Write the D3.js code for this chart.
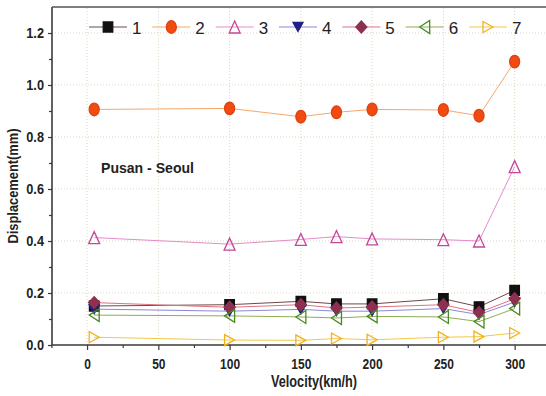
<!DOCTYPE html>
<html>
<head>
<meta charset="utf-8">
<script src="https://cdn.jsdelivr.net/npm/d3@7"></script>
<style>
  body { margin: 0; background: #fff; }
  svg { display: block; }
  .tick text { font-family: "Liberation Sans", Arial, sans-serif; font-weight: bold; font-size: 15px; fill: #222; }
  .lbl { font-family: "Liberation Sans", Arial, sans-serif; font-weight: bold; fill: #222; }
  .leg { font-family: "Liberation Sans", Arial, sans-serif; font-size: 17px; fill: #222; }
</style>
</head>
<body>
<svg id="chart"></svg>
<script>
// velocity (km/h) and displacement (mm) per series
const velocity = [5, 100, 150, 175, 200, 250, 275, 300];
const s1 = [0.150, 0.155, 0.168, 0.158, 0.158, 0.178, 0.147, 0.210];
const s2 = [0.906, 0.910, 0.878, 0.895, 0.906, 0.904, 0.882, 1.090];
const s3 = [0.413, 0.388, 0.406, 0.417, 0.408, 0.405, 0.400, 0.686];
const s4 = [0.138, 0.130, 0.137, 0.130, 0.130, 0.140, 0.117, 0.165];
const s5 = [0.163, 0.145, 0.155, 0.142, 0.146, 0.155, 0.125, 0.178];
const s6 = [0.115, 0.112, 0.108, 0.104, 0.110, 0.108, 0.090, 0.140];
const s7 = [0.030, 0.019, 0.018, 0.025, 0.020, 0.030, 0.032, 0.046];
const seriesNames = ['1', '2', '3', '4', '5', '6', '7'];
const xTicks = [0, 50, 100, 150, 200, 250, 300];
const yTicks = [0.0, 0.2, 0.4, 0.6, 0.8, 1.0, 1.2];

const W = 546, H = 396;
const margin = {top: 7, right: 0, bottom: 51, left: 52};

const svg = d3.select('#chart').attr('width', W).attr('height', H);

const x = d3.scaleLinear().domain([-24.6, 322]).range([margin.left, W - margin.right]);
const y = d3.scaleLinear().domain([0, 1.3]).range([H - margin.bottom, margin.top]);

// squeeze bold text horizontally to get a narrow face
function narrow(sel, k) {
  sel.each(function() {
    const len = this.getComputedTextLength();
    d3.select(this).attr('textLength', len * k).attr('lengthAdjust', 'spacingAndGlyphs');
  });
}

// triangle with given width/height pointing up/down/left/right
function tri(w, h, dir) {
  return {
    draw(ctx) {
      const pts = {
        up:    [[0, -h / 2], [w / 2, h / 2], [-w / 2, h / 2]],
        down:  [[0, h / 2], [w / 2, -h / 2], [-w / 2, -h / 2]],
        left:  [[-w / 2, 0], [w / 2, -h / 2], [w / 2, h / 2]],
        right: [[w / 2, 0], [-w / 2, -h / 2], [-w / 2, h / 2]]
      }[dir];
      ctx.moveTo(pts[0][0], pts[0][1]);
      ctx.lineTo(pts[1][0], pts[1][1]);
      ctx.lineTo(pts[2][0], pts[2][1]);
      ctx.closePath();
    }
  };
}
const ellipse = (rx, ry) => ({
  draw(ctx) {
    const k = 0.5523;
    ctx.moveTo(rx, 0);
    ctx.bezierCurveTo(rx, ry * k, rx * k, ry, 0, ry);
    ctx.bezierCurveTo(-rx * k, ry, -rx, ry * k, -rx, 0);
    ctx.bezierCurveTo(-rx, -ry * k, -rx * k, -ry, 0, -ry);
    ctx.bezierCurveTo(rx * k, -ry, rx, -ry * k, rx, 0);
    ctx.closePath();
  }
});
const rect = (w, h) => ({ draw(ctx) { ctx.rect(-w / 2, -h / 2, w, h); } });
const diamond = (w, h) => ({
  draw(ctx) {
    ctx.moveTo(0, -h / 2); ctx.lineTo(w / 2, 0); ctx.lineTo(0, h / 2); ctx.lineTo(-w / 2, 0); ctx.closePath();
  }
});

const series = [
  {name: seriesNames[0], values: s1, line: '#6a4a48', fill: '#111', stroke: '#111', shape: rect(9.5, 10)},
  {name: seriesNames[1], values: s2, line: '#f5a868', fill: '#f24b12', stroke: '#e04010', shape: ellipse(5, 6.3)},
  {name: seriesNames[2], values: s3, line: '#e48cc8', fill: 'none', stroke: '#c4479c', shape: tri(11, 12, 'up')},
  {name: seriesNames[3], values: s4, line: '#8c88d8', fill: '#1f1f86', stroke: '#1f1f86', shape: tri(10, 9, 'down')},
  {name: seriesNames[4], values: s5, line: '#e2707e', fill: '#8e3050', stroke: '#8e3050', shape: diamond(11, 12)},
  {name: seriesNames[5], values: s6, line: '#8cae52', fill: 'none', stroke: '#4a8a24', shape: tri(10, 13, 'left')},
  {name: seriesNames[6], values: s7, line: '#f2c84a', fill: 'none', stroke: '#f2b21e', shape: tri(10, 11, 'right')}
];

// dotted grid
const grid = svg.append('g').attr('stroke', '#dcd6bd').attr('stroke-width', 1).attr('stroke-dasharray', '1,2');
grid.selectAll('line.v').data(xTicks).join('line')
  .attr('x1', d => x(d)).attr('x2', d => x(d))
  .attr('y1', y(0)).attr('y2', y(1.3));
grid.selectAll('line.h').data(yTicks.slice(1)).join('line')
  .attr('x1', x.range()[0]).attr('x2', x.range()[1])
  .attr('y1', d => y(d)).attr('y2', d => y(d));

// axes
const xAxis = svg.append('g').attr('transform', `translate(0,${y(0)})`)
  .call(d3.axisBottom(x).tickValues(xTicks).tickFormat(d3.format('d')).tickSize(5).tickPadding(8));
svg.append('g').attr('transform', `translate(0,${y(0)})`)
  .call(d3.axisBottom(x).tickValues([-25, 25, 75, 125, 175, 225, 275]).tickFormat('').tickSize(3))
  .select('.domain').remove();
const yAxis = svg.append('g').attr('transform', `translate(${x.range()[0]},0)`)
  .call(d3.axisLeft(y).tickValues(yTicks).tickFormat(d3.format('.1f')).tickSize(4).tickPadding(4));
svg.append('g').attr('transform', `translate(${x.range()[0]},0)`)
  .call(d3.axisLeft(y).tickValues([0.1, 0.3, 0.5, 0.7, 0.9, 1.1]).tickFormat('').tickSize(3))
  .select('.domain').remove();
svg.selectAll('.domain').attr('stroke', '#3a3a3a').attr('stroke-width', 1.6);
svg.selectAll('.tick line').attr('stroke', '#3a3a3a').attr('stroke-width', 1.2);
xAxis.selectAll('.domain').attr('d', `M${x.range()[0]},0H${W}`);
yAxis.selectAll('.domain').attr('d', `M0,${y(0)}V${y(1.3)}`);
narrow(xAxis.selectAll('.tick text'), 0.8);
narrow(yAxis.selectAll('.tick text'), 0.85);

// top frame
svg.append('line')
  .attr('x1', x.range()[0]).attr('x2', W)
  .attr('y1', y(1.3)).attr('y2', y(1.3))
  .attr('stroke', '#555').attr('stroke-width', 1.4);

// lines and markers
const line = d3.line().x((d, i) => x(velocity[i])).y(d => y(d));
series.forEach(s => {
  svg.append('path').datum(s.values)
    .attr('d', line).attr('fill', 'none')
    .attr('stroke', s.line).attr('stroke-width', 1);
});
series.forEach(s => {
  svg.append('g').selectAll('path').data(s.values).join('path')
    .attr('transform', (d, i) => `translate(${x(velocity[i])},${y(d)})`)
    .attr('d', d3.symbol().type(s.shape))
    .attr('fill', s.fill).attr('stroke', s.stroke).attr('stroke-width', 1.3);
});

// legend
const lx = d3.scalePoint().domain(seriesNames).range([108, 488]);
const legend = svg.append('g').attr('transform', 'translate(0,27)');
series.forEach(s => {
  const g = legend.append('g').attr('transform', `translate(${lx(s.name)},0)`);
  g.append('line').attr('x1', -19).attr('x2', 19).attr('stroke', s.line).attr('stroke-width', 1);
  g.append('path').attr('d', d3.symbol().type(s.shape)).attr('fill', s.fill).attr('stroke', s.stroke).attr('stroke-width', 1.3);
  g.append('text').attr('class', 'leg').attr('x', 24).attr('y', 6.5).text(s.name);
});

// labels
svg.append('text').attr('class', 'lbl')
  .attr('x', 101).attr('y', 173)
  .style('font-size', '15px')
  .attr('textLength', 93).attr('lengthAdjust', 'spacingAndGlyphs')
  .text('Pusan - Seoul');

svg.append('text').attr('class', 'lbl')
  .attr('text-anchor', 'middle')
  .attr('x', 314).attr('y', 387)
  .style('font-size', '16px')
  .attr('textLength', 86).attr('lengthAdjust', 'spacingAndGlyphs')
  .text('Velocity(km/h)');

svg.append('text').attr('class', 'lbl')
  .attr('text-anchor', 'middle')
  .attr('transform', 'translate(18,186) rotate(-90)')
  .style('font-size', '15px')
  .attr('textLength', 115).attr('lengthAdjust', 'spacingAndGlyphs')
  .text('Displacement(mm)');
</script>
</body>
</html>
